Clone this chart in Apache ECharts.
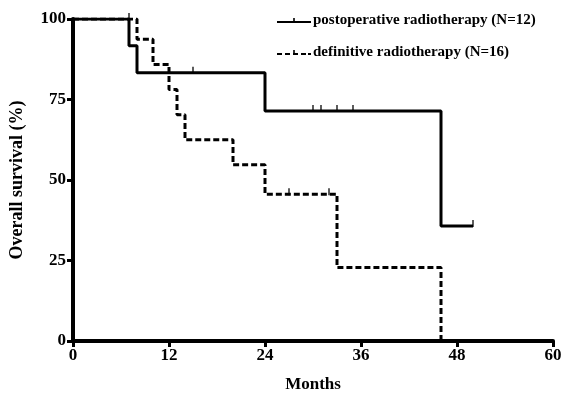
<!DOCTYPE html>
<html>
<head>
<meta charset="utf-8">
<script src="https://cdn.jsdelivr.net/npm/echarts@6/dist/echarts.min.js"></script>
<style>
  html, body { margin: 0; padding: 0; background: #fff; }
  #chart { width: 565px; height: 409px; }
</style>
</head>
<body>
<div id="chart"></div>
<script>
// Kaplan-Meier step curves: [month, survival %] after each event
const postopName = 'postoperative radiotherapy (N=12)';
const definitiveName = 'definitive radiotherapy (N=16)';

const postopSteps = [[0, 100], [7, 91.7], [8, 83.3], [24, 71.4], [46, 35.7], [50, 35.7]];
const definitiveSteps = [[0, 100], [8, 93.75], [10, 85.9], [12, 78.1], [13, 70.3], [14, 62.5],
                         [20, 54.7], [24, 45.6], [33, 22.8], [46, 0]];

// censored observations [month, survival %]
const postopCensored = [[7, 100], [15, 83.3], [30, 71.4], [31, 71.4], [33, 71.4], [35, 71.4], [50, 35.7]];
const definitiveCensored = [[27, 45.6], [32, 45.6]];

const xTicks = [0, 12, 24, 36, 48, 60];
const yTicks = [0, 25, 50, 75, 100];

const FONT = 'Liberation Serif';
const chart = echarts.init(document.getElementById('chart'));

const solidIcon = 'path://M0,3.2 H34 V5.2 H0 Z M16.2,0 H17.8 V5.2 H16.2 Z';
const dashIcon = 'path://M0,3.2 H5 V5.2 H0 Z M8,3.2 H13 V5.2 H8 Z M16.2,0 H17.8 V5.2 H16.2 Z M16,3.2 H21 V5.2 H16 Z M24,3.2 H29 V5.2 H24 Z M31,3.2 H34 V5.2 H31 Z';

const censorStyle = {
  type: 'scatter',
  symbol: 'rect',
  symbolSize: [1.6, 7],
  symbolOffset: [0, -2.5],
  itemStyle: { color: '#000' },
  silent: true,
  z: 4
};

chart.setOption({
  animation: false,
  backgroundColor: '#fff',
  textStyle: { fontFamily: FONT },
  grid: { left: 71, right: 12, top: 19, bottom: 68, containLabel: false },
  legend: {
    orient: 'vertical',
    left: 272,
    top: 8,
    itemWidth: 34,
    itemHeight: 8,
    itemGap: 17,
    selectedMode: false,
    textStyle: { fontFamily: FONT, fontWeight: 'bold', fontSize: 15, color: '#000', padding: [0, 0, 0, -3] },
    data: [
      { name: postopName, icon: solidIcon },
      { name: definitiveName, icon: dashIcon }
    ]
  },
  xAxis: {
    type: 'value',
    min: xTicks[0],
    max: xTicks[xTicks.length - 1],
    interval: 12,
    name: 'Months',
    nameLocation: 'middle',
    nameGap: 35,
    nameTextStyle: { fontFamily: FONT, fontWeight: 'bold', fontSize: 17, color: '#000' },
    axisLine: { onZero: false, lineStyle: { color: '#000', width: 4 } },
    axisTick: { show: true, length: 6, lineStyle: { color: '#000', width: 3 } },
    axisLabel: { fontFamily: FONT, fontWeight: 'bold', fontSize: 17, color: '#000', margin: 6,
                 formatter: v => xTicks.includes(v) ? String(v) : '' },
    splitLine: { show: false }
  },
  yAxis: {
    type: 'value',
    min: yTicks[0],
    max: yTicks[yTicks.length - 1],
    interval: 25,
    name: 'Overall survival (%)',
    nameLocation: 'middle',
    nameGap: 47,
    nameTextStyle: { fontFamily: FONT, fontWeight: 'bold', fontSize: 18, color: '#000' },
    axisLine: { show: true, onZero: false, lineStyle: { color: '#000', width: 4 } },
    axisTick: { show: true, length: 6, lineStyle: { color: '#000', width: 3 } },
    axisLabel: { fontFamily: FONT, fontWeight: 'bold', fontSize: 17, color: '#000', margin: 7,
                 formatter: v => yTicks.includes(v) ? String(v) : '' },
    splitLine: { show: false }
  },
  series: [
    {
      name: postopName,
      type: 'line',
      step: 'end',
      data: postopSteps,
      showSymbol: false,
      lineStyle: { color: '#000', width: 3 },
      itemStyle: { color: '#000' },
      z: 3
    },
    {
      name: definitiveName,
      type: 'line',
      step: 'end',
      data: definitiveSteps,
      showSymbol: false,
      lineStyle: { color: '#000', width: 3, type: [6, 3] },
      itemStyle: { color: '#000' },
      z: 3
    },
    Object.assign({ name: postopName + ' censored', data: postopCensored }, censorStyle),
    Object.assign({ name: definitiveName + ' censored', data: definitiveCensored }, censorStyle)
  ]
});
</script>
</body>
</html>
